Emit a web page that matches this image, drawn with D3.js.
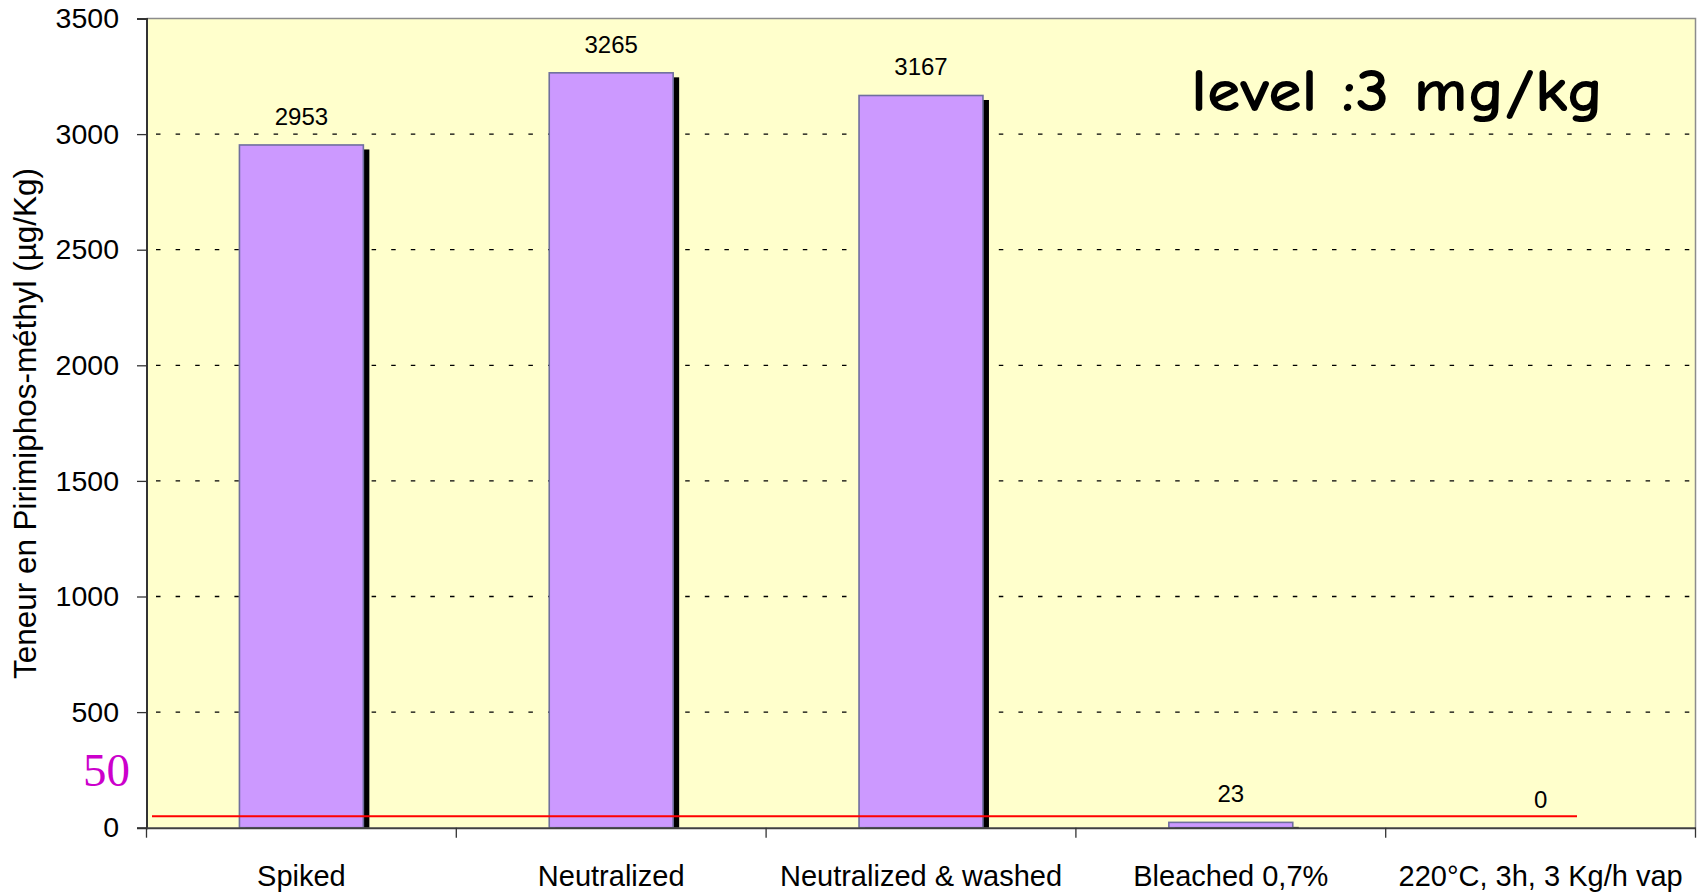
<!DOCTYPE html>
<html>
<head>
<meta charset="utf-8">
<script src="https://cdn.jsdelivr.net/npm/d3@7/dist/d3.min.js"></script>
<style>
  html, body { margin: 0; padding: 0; background: #ffffff; }
  svg { display: block; }
  text { font-family: "Liberation Sans", Arial, Helvetica, sans-serif; fill: #000; }
</style>
</head>
<body>
<svg id="chart" width="1702" height="893"></svg>
<script>
// Residue content per processing step
const categories = ["Spiked", "Neutralized", "Neutralized & washed", "Bleached 0,7%", "220°C, 3h, 3 Kg/h vap"];
const values = [2953, 3265, 3167, 23, 0];
const yTicks = [0, 500, 1000, 1500, 2000, 2500, 3000, 3500];
const gridTicks = [500, 1000, 1500, 2000, 2500, 3000];
const limitValue = 50;
const limitLabel = "50";
const yTitle = "Teneur en Pirimiphos-méthyl (µg/Kg)";
const levelNote = "level :3 mg/kg";

const W = 1702, H = 893;
const plot = { left: 146.5, right: 1695.5, top: 18.5, bottom: 827.7 };

const svg = d3.select("#chart");

const y = d3.scaleLinear().domain([0, 3500]).range([plot.bottom, plot.top]);
const xCat = d3.scaleBand().domain(categories).range([plot.left, plot.right]).padding(0);
const xBar = d3.scaleBand().domain(categories).range([plot.left, plot.right])
  .paddingInner(0.6).paddingOuter(0.3);

// plot background
svg.append("rect")
  .attr("x", plot.left).attr("y", plot.top)
  .attr("width", plot.right - plot.left).attr("height", plot.bottom - plot.top)
  .attr("fill", "#FFFFCC");

// top and right frame
svg.append("path")
  .attr("d", `M${plot.left},${plot.top}H${plot.right}V${plot.bottom}`)
  .attr("fill", "none").attr("stroke", "#8c8c8c").attr("stroke-width", 1.5);

// dashed gridlines
svg.append("g").selectAll("line").data(gridTicks).join("line")
  .attr("x1", plot.left).attr("x2", plot.right)
  .attr("y1", d => y(d)).attr("y2", d => y(d))
  .attr("stroke", "#000").attr("stroke-width", 1.3)
  .attr("stroke-dasharray", "4.5 15.1").attr("stroke-dashoffset", 10.1);

svg.append("clipPath").attr("id", "plotClip")
  .append("rect").attr("x", plot.left).attr("y", plot.top)
  .attr("width", plot.right - plot.left).attr("height", plot.bottom - plot.top);

const data = categories.map((c, i) => ({ c, v: values[i] }));
const barsG = svg.append("g").attr("clip-path", "url(#plotClip)");

// drop shadows
barsG.selectAll("rect.shadow").data(data.filter(d => d.v > 0)).join("rect")
  .attr("class", "shadow")
  .attr("x", d => xBar(d.c) + 6)
  .attr("y", d => y(d.v) + 4.5)
  .attr("width", xBar.bandwidth())
  .attr("height", d => plot.bottom - y(d.v))
  .attr("fill", "#000");

// bars
barsG.selectAll("rect.bar").data(data.filter(d => d.v > 0)).join("rect")
  .attr("class", "bar")
  .attr("x", d => xBar(d.c))
  .attr("y", d => y(d.v))
  .attr("width", xBar.bandwidth())
  .attr("height", d => plot.bottom - y(d.v))
  .attr("fill", "#CC99FF")
  .attr("stroke", "#6f6f9e").attr("stroke-width", 1.6);

// value labels
svg.append("g").selectAll("text").data(data).join("text")
  .attr("x", d => xCat(d.c) + xCat.bandwidth() / 2)
  .attr("y", d => y(d.v) - 20)
  .attr("text-anchor", "middle")
  .attr("font-size", 24)
  .text(d => d.v);

// threshold line
svg.append("line")
  .attr("x1", 152).attr("x2", 1577)
  .attr("y1", y(limitValue)).attr("y2", y(limitValue))
  .attr("stroke", "#FF0000").attr("stroke-width", 2);

svg.append("text")
  .attr("x", 106.5).attr("y", 786)
  .attr("text-anchor", "middle")
  .style("font-family", "'Liberation Serif', 'Times New Roman', serif")
  .style("fill", "#CC00CC")
  .attr("font-size", 47)
  .text(limitLabel);

// y axis
const yAxis = d3.axisLeft(y).tickValues(yTicks).tickSize(9.5).tickPadding(18).tickFormat(d3.format("d"));
const gy = svg.append("g").attr("transform", `translate(${plot.left},0)`).call(yAxis);
gy.select(".domain").attr("stroke", "#333").attr("stroke-width", 2);
gy.selectAll(".tick line").attr("stroke", "#333").attr("stroke-width", 1.3);
gy.selectAll(".tick text").attr("font-size", 28.5).style("font-family", "'Liberation Sans', Arial, sans-serif");

// x axis: baseline, category boundaries and labels
const gx = svg.append("g").attr("transform", `translate(0,${plot.bottom})`)
  .call(d3.axisBottom(xCat).tickSize(0).tickPadding(38));
gx.select(".domain").attr("stroke", "#404040").attr("stroke-width", 2);
gx.selectAll(".tick text").attr("font-size", 29).style("font-family", "'Liberation Sans', Arial, sans-serif");

const bounds = categories.map(c => xCat(c)).concat([plot.right]);
gx.selectAll("line.bound").data(bounds).join("line")
  .attr("class", "bound")
  .attr("x1", d => d).attr("x2", d => d)
  .attr("y1", 0).attr("y2", 10)
  .attr("stroke", "#333").attr("stroke-width", 1.3);

// y axis title
svg.append("text")
  .attr("transform", `translate(36,423.5) rotate(-90)`)
  .attr("text-anchor", "middle")
  .attr("font-size", 31)
  .attr("textLength", 511)
  .attr("lengthAdjust", "spacingAndGlyphs")
  .text(yTitle);

// spiking level note
svg.append("text")
  .attr("x", 1191).attr("y", 110.7)
  .style("font-family", "'Comic Sans MS', 'Comic Neue', 'Open Sans', sans-serif")
  .style("font-weight", "bold")
  .attr("font-size", 60)
  .attr("textLength", 413)
  .attr("lengthAdjust", "spacingAndGlyphs")
  .text(levelNote);
</script>
</body>
</html>
